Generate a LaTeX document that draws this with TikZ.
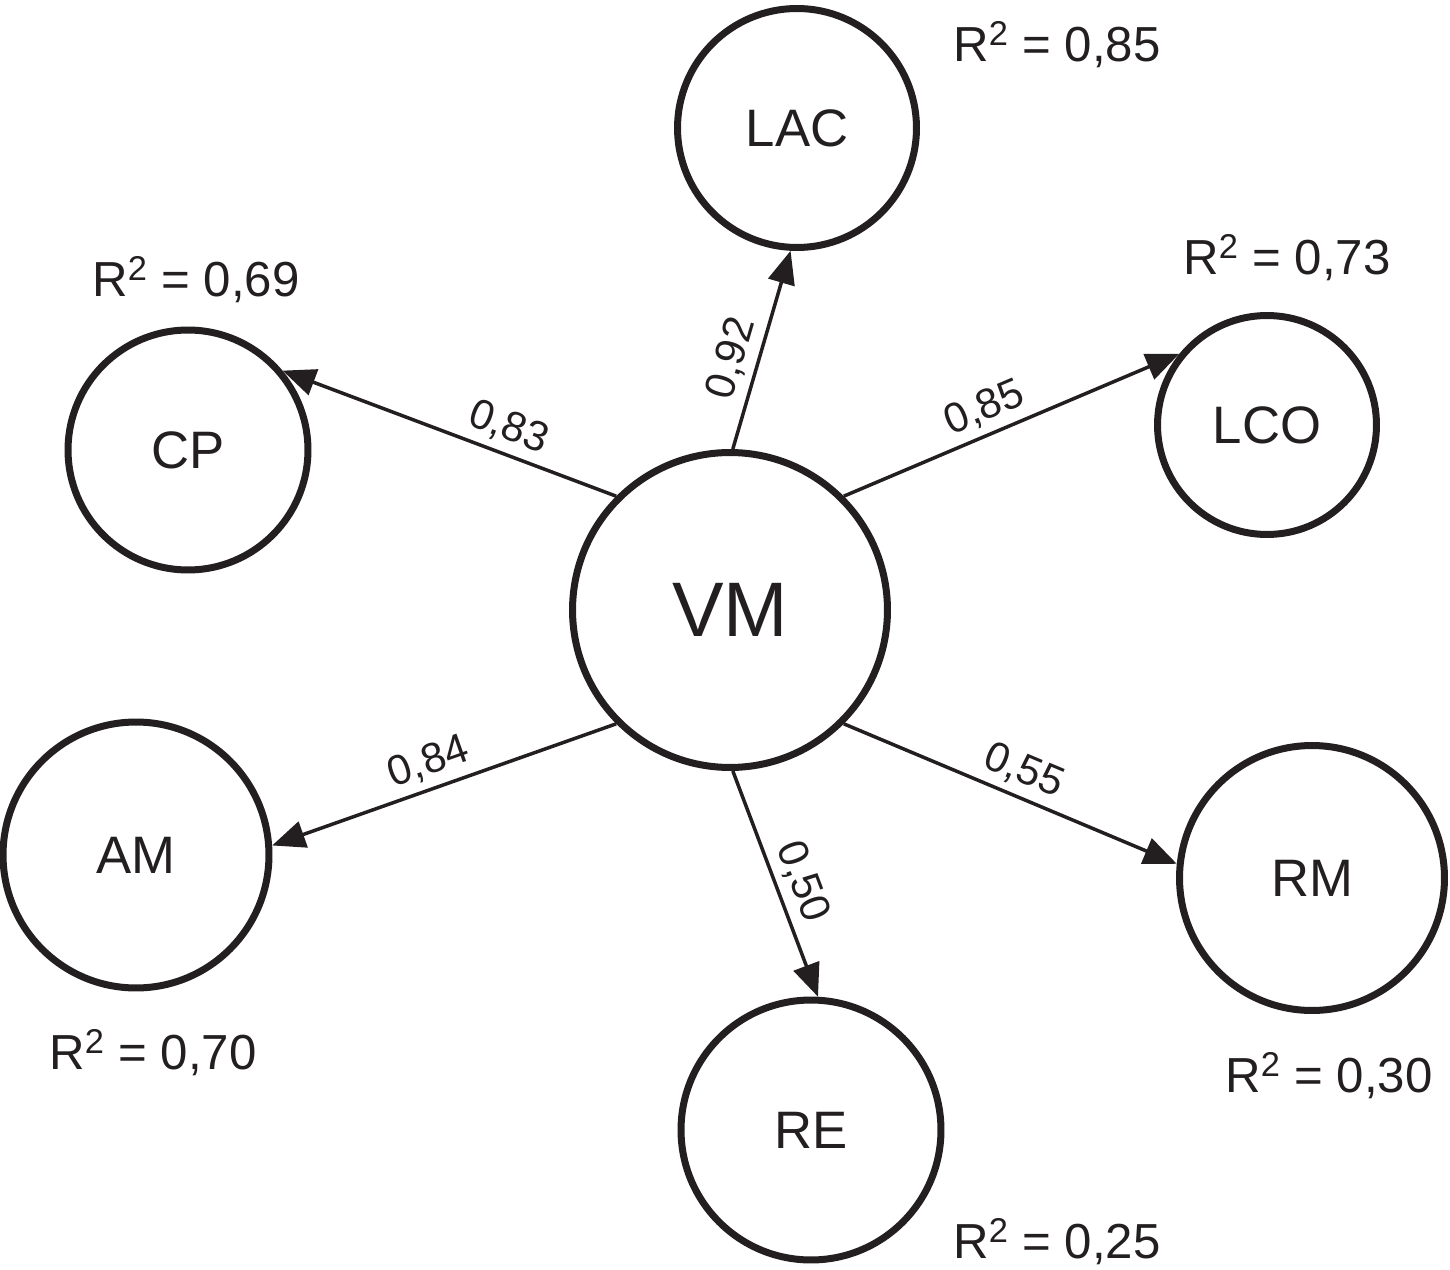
\documentclass[tikz,border=0pt]{standalone}
\usepackage{fontspec}
\setmainfont{Liberation Sans}
\usetikzlibrary{arrows.meta}
\definecolor{ink}{HTML}{231F20}
\begin{document}
\begin{tikzpicture}[x=0.02cm,y=-0.02cm,
  lv/.style={circle,draw=ink,line width=0.14cm,inner sep=0pt,text=ink,font=\fontsize{30}{36}\selectfont},
  conn/.style={draw=ink,line width=0.07cm,-{Triangle[length=0.66cm,width=0.54cm]}},
  coef/.style={sloped,above,text=ink,inner sep=4pt,font=\fontsize{24}{28}\selectfont},
  rsq/.style={text=ink,font=\fontsize{28}{32}\selectfont}]
\useasboundingbox (0,0) rectangle (1450,1270);
\node[lv,minimum size=6.3cm,font=\fontsize{44}{50}\selectfont] (VM) at (730,610) {VM};
\node[lv,minimum size=4.78cm] (LAC) at (797,128) {LAC};
\node[lv,minimum size=4.38cm] (LCO) at (1267,425) {LCO};
\node[lv,minimum size=4.8cm] (CP) at (188,450) {CP};
\node[lv,minimum size=5.32cm] (AM) at (136,855) {AM};
\node[lv,minimum size=5.3cm] (RM) at (1312,878) {RM};
\node[lv,minimum size=5.2cm] (RE) at (811,1130) {RE};
\draw[conn] (VM.89) -- node[coef,pos=0.42] {0,92} (LAC.267);
\draw[conn] (VM.45) -- node[coef,pos=0.45] {0,85} (LCO.141);
\draw[conn] (VM.135) -- node[coef,pos=0.35] {0,83} (CP.40);
\draw[conn] (VM.225) -- node[coef,pos=0.52] {0,84} (AM.4);
\draw[conn] (VM.-45) -- node[coef,pos=0.51] {0,55} (RM.174);
\draw[conn] (VM.-89) -- node[coef,pos=0.53] {0,50} (RE.87);
\node[rsq] (rLAC) at (1057,45) {R\textsuperscript{2} = 0,85};
\node[rsq] (rLCO) at (1287,258) {R\textsuperscript{2} = 0,73};
\node[rsq] (rCP) at (196,280) {R\textsuperscript{2} = 0,69};
\node[rsq] (rAM) at (153,1053) {R\textsuperscript{2} = 0,70};
\node[rsq] (rRM) at (1329,1076) {R\textsuperscript{2} = 0,30};
\node[rsq] (rRE) at (1057,1242) {R\textsuperscript{2} = 0,25};
\end{tikzpicture}
\end{document}
